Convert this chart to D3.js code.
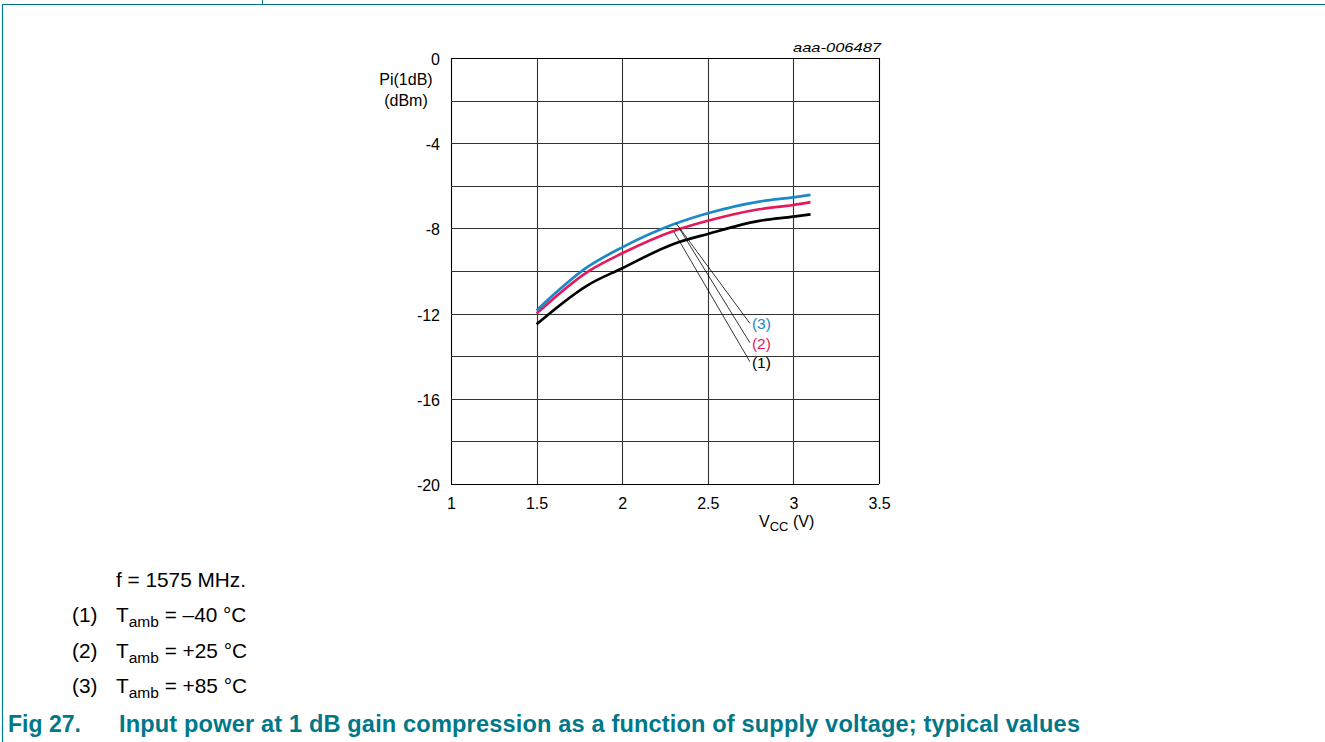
<!DOCTYPE html>
<html><head><meta charset="utf-8">
<script src="https://cdn.jsdelivr.net/npm/d3@7"></script>
<style>
html,body{margin:0;padding:0;background:#fff;}
svg{display:block;font-family:"Liberation Sans",Arial,Helvetica,sans-serif;}
</style></head>
<body>
<script>
// ---- data ----
const vcc = [1.5, 1.8, 2.0, 2.3, 2.5, 2.8, 3.0, 3.1];
const pi1 = [-12.5, -10.66, -9.87, -8.73, -8.26, -7.65, -7.45, -7.34]; // (1) -40 C
const pi2 = [-12.0, -10.03, -9.17, -8.12, -7.64, -7.10, -6.90, -6.77]; // (2) +25 C
const pi3 = [-11.85, -9.80, -8.89, -7.81, -7.29, -6.74, -6.54, -6.43]; // (3) +85 C
const seriesLabels = ["(1)", "(2)", "(3)"];
const xTicks = [1, 1.5, 2, 2.5, 3, 3.5];
const yTicks = [0, -4, -8, -12, -16, -20];
const yGrid = [0, -2, -4, -6, -8, -10, -12, -14, -16, -18, -20];
// leader lines: [startV, startdB, endV, enddB]
const leaders = [[2.303, -8.17, 2.746, -14.26], [2.332, -7.98, 2.746, -13.37], [2.314, -7.75, 2.746, -12.46]];
const notes = ["f = 1575 MHz."];
const legendTemps = ["\u201340 \u00b0C", "+25 \u00b0C", "+85 \u00b0C"];
const figNum = "Fig 27.";
const figTitle = "Input power at 1 dB gain compression as a function of supply voltage; typical values";

const colors = ["#000000", "#e6195a", "#1a88c9"];
const teal = "#00788a";

const W = 1325, H = 742;
const svg = d3.select("body").append("svg").attr("width", W).attr("height", H);

// frame
svg.append("line").attr("x1", 2).attr("x2", W).attr("y1", 4.5).attr("y2", 4.5).attr("stroke", teal).attr("stroke-width", 1.2);
svg.append("line").attr("x1", 2.5).attr("x2", 2.5).attr("y1", 4).attr("y2", H).attr("stroke", teal).attr("stroke-width", 1.2);
svg.append("line").attr("x1", 262.5).attr("x2", 262.5).attr("y1", 0).attr("y2", 4).attr("stroke", teal).attr("stroke-width", 1);

const x = d3.scaleLinear().domain([1, 3.5]).range([451, 879]);
const y = d3.scaleLinear().domain([-20, 0]).range([484, 58]);

const g = svg.append("g");
// grid
g.selectAll(".vg").data(xTicks).enter().append("line")
  .attr("x1", d => Math.round(x(d)) + 0.5).attr("x2", d => Math.round(x(d)) + 0.5)
  .attr("y1", y(0)).attr("y2", y(-20)).attr("stroke", d => (d === 1 || d === 3.5) ? "#000" : "#333").attr("stroke-width", 1.1);
g.selectAll(".hg").data(yGrid).enter().append("line")
  .attr("y1", d => Math.round(y(d)) + 0.5).attr("y2", d => Math.round(y(d)) + 0.5)
  .attr("x1", x(1)).attr("x2", x(3.5)).attr("stroke", d => (d === 0 || d === -20) ? "#000" : "#333").attr("stroke-width", 1.1);

// axes labels via d3 axes (no lines)
const xAxis = g.append("g").attr("transform", `translate(0,${y(-20)})`)
  .call(d3.axisBottom(x).tickValues(xTicks).tickSize(0).tickPadding(14).tickFormat(d => String(d)));
xAxis.select(".domain").remove();
xAxis.attr("font-size", 16).attr("font-family", "Liberation Sans, Arial, sans-serif");
xAxis.selectAll("text").attr("fill", "#000");

const yAxis = g.append("g").attr("transform", `translate(${x(1)},0)`)
  .call(d3.axisLeft(y).tickValues(yTicks).tickSize(0).tickPadding(11).tickFormat(d => String(d)));
yAxis.select(".domain").remove();
yAxis.attr("font-size", 16).attr("font-family", "Liberation Sans, Arial, sans-serif");
yAxis.selectAll("text").attr("fill", "#000").attr("dy", "0.40em");

// axis titles
svg.append("text").attr("x", 406).attr("y", 85).attr("text-anchor", "middle").attr("font-size", 16).text("Pi(1dB)");
svg.append("text").attr("x", 406).attr("y", 106).attr("text-anchor", "middle").attr("font-size", 16).text("(dBm)");
const xt = svg.append("text").attr("x", 759).attr("y", 527).attr("font-size", 16);
xt.append("tspan").text("V");
xt.append("tspan").attr("font-size", 13).attr("dy", 4).text("CC");
xt.append("tspan").attr("dy", -4).text(" (V)");
svg.append("text").attr("x", 793).attr("y", 51.5).attr("font-size", 13)
  .attr("font-style", "italic").attr("textLength", 88).attr("lengthAdjust", "spacingAndGlyphs").text("aaa-006487");

// curves
const line = d3.line().x(d => x(d[0])).y(d => y(d[1])).curve(d3.curveMonotoneX);
[pi1, pi2, pi3].forEach((s, i) => {
  g.append("path").datum(vcc.map((v, k) => [v, s[k]]))
    .attr("d", line).attr("fill", "none").attr("stroke", colors[i]).attr("stroke-width", 2.7)
    .attr("stroke-linejoin", "round");
});

// leader lines + labels
leaders.forEach((l, i) => {
  g.append("line").attr("x1", x(l[0])).attr("y1", y(l[1])).attr("x2", x(l[2])).attr("y2", y(l[3]))
    .attr("stroke", "#000").attr("stroke-width", 0.8);
  g.append("text").attr("x", x(l[2]) + 2).attr("y", y(l[3]) + 6).attr("font-size", 15.5)
    .attr("fill", colors[i]).text(seriesLabels[i]);
});

// notes
const fs = 20.8;
svg.append("text").attr("x", 116).attr("y", 587).attr("font-size", fs).text(notes[0]);
legendTemps.forEach((t, i) => {
  const yy = 622 + i * 35.5;
  svg.append("text").attr("x", 72).attr("y", yy).attr("font-size", fs).text(seriesLabels[i]);
  const tt = svg.append("text").attr("x", 116).attr("y", yy).attr("font-size", fs);
  tt.append("tspan").text("T");
  tt.append("tspan").attr("font-size", 15.5).attr("dy", 5).text("amb");
  tt.append("tspan").attr("dy", -5).text(" = " + t);
});
svg.append("text").attr("x", 8).attr("y", 731.5).attr("font-size", 23).attr("font-weight", "bold")
  .attr("fill", teal).text(figNum);
svg.append("text").attr("x", 119).attr("y", 731.5).attr("font-size", 23.6).attr("font-weight", "bold")
  .attr("fill", teal).attr("textLength", 961).attr("lengthAdjust", "spacing").text(figTitle);
</script>
</body></html>
